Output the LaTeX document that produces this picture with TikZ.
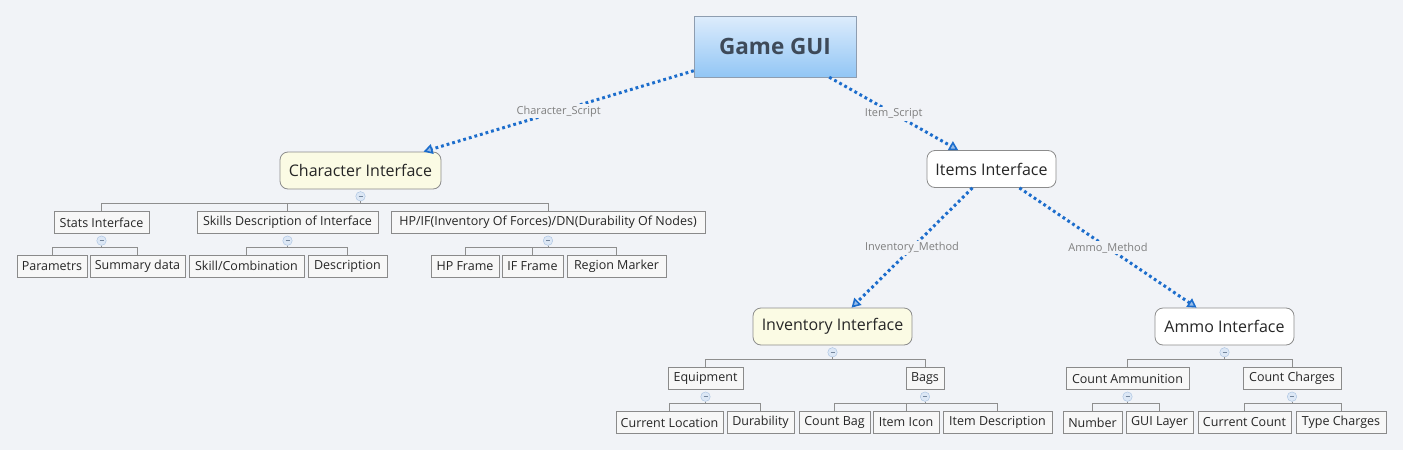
\documentclass[tikz,border=0pt]{standalone}
\usepackage{fontspec}
\setmainfont{Open Sans}
\usepackage{xcolor}
\usetikzlibrary{arrows.meta, positioning}

\definecolor{bgc}{HTML}{F1F3F7}
\definecolor{topictop}{HTML}{DDECFC}
\definecolor{topicbot}{HTML}{92C6F5}
\definecolor{topicedge}{HTML}{8E9DB0}
\definecolor{topictext}{HTML}{3E4A59}
\definecolor{mainedge}{HTML}{8C8C8C}
\definecolor{yellowfill}{HTML}{FBFBE4}
\definecolor{subedge}{HTML}{8A8A8A}
\definecolor{subfill}{HTML}{F7F7F7}
\definecolor{boxtext}{HTML}{262626}
\definecolor{foldedge}{HTML}{A6C0E0}
\definecolor{foldfill}{HTML}{DCE7F5}
\definecolor{linkc}{HTML}{8E8E8E}
\definecolor{arrc}{HTML}{1C6DCC}
\definecolor{lblc}{HTML}{7F7F7F}

\begin{document}
\begin{tikzpicture}[
    x=1pt, y=-1pt,
    topic/.style={draw=topicedge, top color=topictop, bottom color=topicbot,
                  minimum width=162pt, minimum height=61pt,
                  font=\fontsize{22.5}{26}\selectfont\bfseries, text=topictext},
    main/.style={draw=mainedge, rounded corners=8pt, line width=0.8pt, fill=white,
                 minimum height=37pt, inner xsep=2pt,
                 font=\fontsize{16}{19}\selectfont, text=boxtext},
    sub/.style={draw=subedge, fill=subfill, minimum height=22pt,
                inner xsep=1pt, inner ysep=0pt,
                font=\fontsize{12.5}{15}\selectfont, text=boxtext},
    fold/.style={circle, draw=foldedge, fill=foldfill, minimum size=9.5pt, inner sep=0pt,
                 path picture={\draw[foldedge!70!black, line width=0.7pt]
                   ([xshift=-2pt]path picture bounding box.center) --
                   ([xshift=2pt]path picture bounding box.center);}},
    link/.style={draw=linkc, line width=0.9pt},
    arr/.style={draw=arrc, line width=3pt, dash pattern=on 2.8pt off 3pt,
                -{Triangle[length=9pt, width=10pt, line width=1.6pt, fill=arrc!45]}},
    lbl/.style={fill=bgc, inner sep=1.5pt, font=\fontsize{11}{13}\selectfont, text=lblc}
]
\useasboundingbox (0,0) rectangle (1403,450);
\fill[bgc] (0,0) rectangle (1403,450);

\node[topic]                                      (root)     at (775,46.5)   {Game GUI};
\node[main, fill=yellowfill, minimum width=161pt] (charif)   at (360.5,170.5) {Character Interface};
\node[main, minimum width=129pt]                  (itemsif)  at (991.5,169)  {Items Interface};
\node[main, fill=yellowfill, minimum width=159pt] (invif)    at (832.5,326.5) {Inventory Interface};
\node[main, minimum width=139pt]                  (ammoif)   at (1224.5,326.5) {Ammo Interface};

\node[sub, minimum width=95pt]  (stats)     at (101.5,222.5) {Stats Interface};
\node[sub, minimum width=181pt] (skills)    at (287.5,222.5) {Skills Description of Interface};
\node[sub, minimum width=314pt] (hpif)      at (548,222.5)   {HP/IF(Inventory Of Forces)/DN(Durability Of Nodes)};
\node[sub, minimum width=70pt]  (parametrs) at (52,266)      {Parametrs};
\node[sub, minimum width=95pt]  (summary)   at (137.5,266)   {Summary data};
\node[sub, minimum width=115pt] (skillcomb) at (246.5,266)   {Skill/Combination};
\node[sub, minimum width=79pt]  (descr)     at (347.5,266)   {Description};
\node[sub, minimum width=68pt]  (hpframe)   at (465,266)     {HP Frame};
\node[sub, minimum width=61pt]  (ifframe)   at (532.5,266)   {IF Frame};
\node[sub, minimum width=99pt]  (regmark)   at (616.5,266)   {Region Marker};

\node[sub, minimum width=75pt]  (equip)     at (705.5,378.5)  {Equipment};
\node[sub, minimum width=38pt]  (bags)      at (925,378.5)    {Bags};
\node[sub, minimum width=123pt] (countammo) at (1127.5,378.5) {Count Ammunition};
\node[sub, minimum width=98pt]  (countch)   at (1292,378.5)   {Count Charges};
\node[sub, minimum width=107pt] (curloc)    at (669.5,422.5)  {Current Location};
\node[sub, minimum width=67pt]  (durab)     at (760.5,422.5)  {Durability};
\node[sub, minimum width=71pt]  (countbag)  at (834.5,422.5)  {Count Bag};
\node[sub, minimum width=66pt]  (itemicon)  at (906,422.5)    {Item Icon};
\node[sub, minimum width=109pt] (itemdesc)  at (997.5,422.5)  {Item Description};
\node[sub, minimum width=59pt]  (number)    at (1092.5,422.5) {Number};
\node[sub, minimum width=67pt]  (guilayer)  at (1159.5,422.5) {GUI Layer};
\node[sub, minimum width=93pt]  (curcount)  at (1244.5,422.5) {Current Count};
\node[sub, minimum width=90pt]  (typech)    at (1341,422.5)   {Type Charges};

\node[fold, below=2pt of charif]    (fcharif)    {};
\node[fold, below=2pt of stats]     (fstats)     {};
\node[fold, below=2pt of skills]    (fskills)    {};
\node[fold, below=2pt of hpif]      (fhpif)      {};
\node[fold, below=2pt of invif]     (finvif)     {};
\node[fold, below=2pt of ammoif]    (fammoif)    {};
\node[fold, below=2pt of equip]     (fequip)     {};
\node[fold, below=2pt of bags]      (fbags)      {};
\node[fold, below=2pt of countammo] (fcountammo) {};
\node[fold, below=2pt of countch]   (fcountch)   {};

\draw[link] (fcharif.south)    -- ++(0,2) -| (stats.north);
\draw[link] (fcharif.south)    -- ++(0,2) -| (skills.north);
\draw[link] (fcharif.south)    -- ++(0,2) -| (hpif.north);
\draw[link] (fstats.south)     -- ++(0,2) -| (parametrs.north);
\draw[link] (fstats.south)     -- ++(0,2) -| (summary.north);
\draw[link] (fskills.south)    -- ++(0,2) -| (skillcomb.north);
\draw[link] (fskills.south)    -- ++(0,2) -| (descr.north);
\draw[link] (fhpif.south)      -- ++(0,2) -| (hpframe.north);
\draw[link] (fhpif.south)      -- ++(0,2) -| (ifframe.north);
\draw[link] (fhpif.south)      -- ++(0,2) -| (regmark.north);
\draw[link] (finvif.south)     -- ++(0,2) -| (equip.north);
\draw[link] (finvif.south)     -- ++(0,2) -| (bags.north);
\draw[link] (fequip.south)     -- ++(0,2) -| (curloc.north);
\draw[link] (fequip.south)     -- ++(0,2) -| (durab.north);
\draw[link] (fbags.south)      -- ++(0,2) -| (countbag.north);
\draw[link] (fbags.south)      -- ++(0,2) -| (itemicon.north);
\draw[link] (fbags.south)      -- ++(0,2) -| (itemdesc.north);
\draw[link] (fammoif.south)    -- ++(0,2) -| (countammo.north);
\draw[link] (fammoif.south)    -- ++(0,2) -| (countch.north);
\draw[link] (fcountammo.south) -- ++(0,2) -| (number.north);
\draw[link] (fcountammo.south) -- ++(0,2) -| (guilayer.north);
\draw[link] (fcountch.south)   -- ++(0,2) -| (curcount.north);
\draw[link] (fcountch.south)   -- ++(0,2) -| (typech.north);

\draw[arr] (root)    -- node[lbl] {Character\_Script} (charif);
\draw[arr] (root)    -- node[lbl] {Item\_Script}      (itemsif);
\draw[arr] (itemsif) -- node[lbl] {Inventory\_Method} (invif);
\draw[arr] (itemsif) -- node[lbl] {Ammo\_Method}      (ammoif);
\end{tikzpicture}
\end{document}
